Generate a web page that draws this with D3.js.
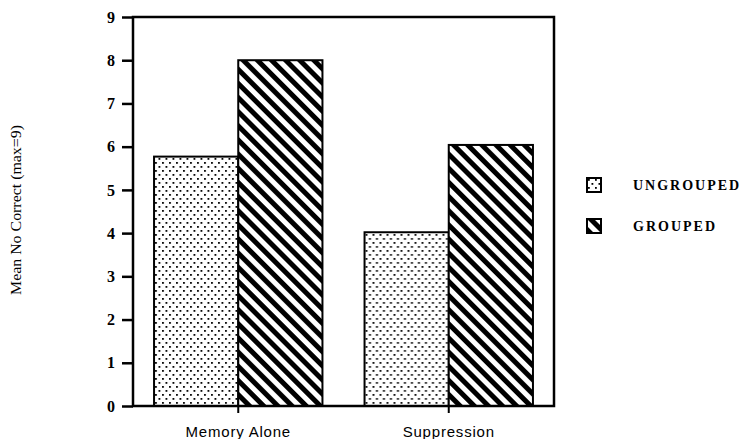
<!DOCTYPE html>
<html>
<head>
<meta charset="utf-8">
<script src="https://cdn.jsdelivr.net/npm/d3@7"></script>
<style>
	body { margin: 0; background: #fff; }
	svg { display: block; }
</style>
</head>
<body>
<svg id="chart"></svg>
<script>
const categories = ["Memory Alone", "Suppression"];
const groups = ["UNGROUPED", "GROUPED"];
const ungroupedVals = [5.77, 4.02];
const groupedVals = [8.0, 6.04];
const yTicks = [0, 1, 2, 3, 4, 5, 6, 7, 8, 9];
const yLabel = "Mean No Correct (max=9)";

const width = 743, height = 439;
const margin = { top: 17, right: 189, bottom: 33, left: 133 };
const innerW = width - margin.left - margin.right;
const innerH = height - margin.top - margin.bottom;

const svg = d3.select("#chart").attr("width", width).attr("height", height);
const defs = svg.append("defs");

// dotted fill
const dots = defs.append("pattern")
	.attr("id", "dots")
	.attr("patternUnits", "userSpaceOnUse")
	.attr("width", 7).attr("height", 8);
dots.append("rect").attr("width", 7).attr("height", 8).attr("fill", "#fff");
dots.append("rect").attr("x", 1).attr("y", 1).attr("width", 1.8).attr("height", 1.8).attr("fill", "#000");
dots.append("rect").attr("x", 4.5).attr("y", 5).attr("width", 1.8).attr("height", 1.8).attr("fill", "#000");

// diagonal stripes "\"
const stripes = defs.append("pattern")
	.attr("id", "stripes")
	.attr("patternUnits", "userSpaceOnUse")
	.attr("width", 10).attr("height", 10)
	.attr("patternTransform", "rotate(-45)");
stripes.append("rect").attr("width", 10).attr("height", 10).attr("fill", "#fff");
stripes.append("rect").attr("width", 5).attr("height", 10).attr("fill", "#000");

const fills = { UNGROUPED: "url(#dots)", GROUPED: "url(#stripes)" };

const g = svg.append("g").attr("transform", `translate(${margin.left},${margin.top})`);

const x0 = d3.scaleBand().domain(categories).range([0, innerW])
	.paddingInner(0.2).paddingOuter(0.1);
const x1 = d3.scaleBand().domain(groups).range([0, x0.bandwidth()]);
const y = d3.scaleLinear().domain([0, 9]).range([innerH, 0]);

const rows = categories.map((c, i) => ({
	cat: c,
	vals: [
		{ key: "UNGROUPED", value: ungroupedVals[i] },
		{ key: "GROUPED", value: groupedVals[i] },
	],
}));

g.selectAll("g.cat")
	.data(rows)
	.join("g")
	.attr("class", "cat")
	.attr("transform", (d) => `translate(${x0(d.cat)},0)`)
	.selectAll("rect")
	.data((d) => d.vals)
	.join("rect")
	.attr("x", (d) => x1(d.key))
	.attr("y", (d) => y(d.value))
	.attr("width", x1.bandwidth())
	.attr("height", (d) => innerH - y(d.value))
	.attr("fill", (d) => fills[d.key])
	.attr("stroke", "#000")
	.attr("stroke-width", 2);

// frame
g.append("rect")
	.attr("width", innerW).attr("height", innerH)
	.attr("fill", "none").attr("stroke", "#000").attr("stroke-width", 2.5);

const yAxis = g.append("g")
	.call(d3.axisLeft(y).tickValues(yTicks).tickFormat(d3.format("d")).tickSize(11).tickSizeOuter(0).tickPadding(7));
yAxis.select(".domain").remove();
yAxis.selectAll("line").attr("stroke-width", 2.5);
yAxis.selectAll("text")
	.attr("font-family", "'Liberation Serif', 'Times New Roman', serif")
	.attr("font-weight", "bold")
	.attr("font-size", 16)
	.attr("fill", "#000");

const xAxis = g.append("g")
	.attr("transform", `translate(0,${innerH})`)
	.call(d3.axisBottom(x0).tickSize(7).tickSizeOuter(0).tickPadding(13));
xAxis.select(".domain").remove();
xAxis.selectAll("line").attr("stroke-width", 2);
xAxis.selectAll("text")
	.attr("font-family", "'Liberation Sans', Arial, sans-serif")
	.attr("font-size", 15)
	.attr("letter-spacing", 0.8)
	.attr("fill", "#000");

// y label
svg.append("text")
	.attr("transform", "translate(21,210) rotate(-90)")
	.attr("text-anchor", "middle")
	.attr("font-family", "'Liberation Serif', 'Times New Roman', serif")
	.attr("font-size", 14)
	.attr("textLength", 170)
	.attr("lengthAdjust", "spacingAndGlyphs")
	.text(yLabel);

// legend
const legend = svg.append("g")
	.selectAll("g")
	.data(groups)
	.join("g")
	.attr("transform", (d, i) => `translate(587,${178 + i * 41})`);
legend.append("rect")
	.attr("width", 14).attr("height", 14)
	.attr("fill", (d) => fills[d])
	.attr("stroke", "#000").attr("stroke-width", 2);
legend.append("text")
	.attr("x", 46).attr("y", 12)
	.attr("font-family", "'Liberation Serif', 'Times New Roman', serif")
	.attr("font-weight", "bold")
	.attr("font-size", 14)
	.attr("letter-spacing", 2)
	.text((d) => d);
</script>
</body>
</html>
